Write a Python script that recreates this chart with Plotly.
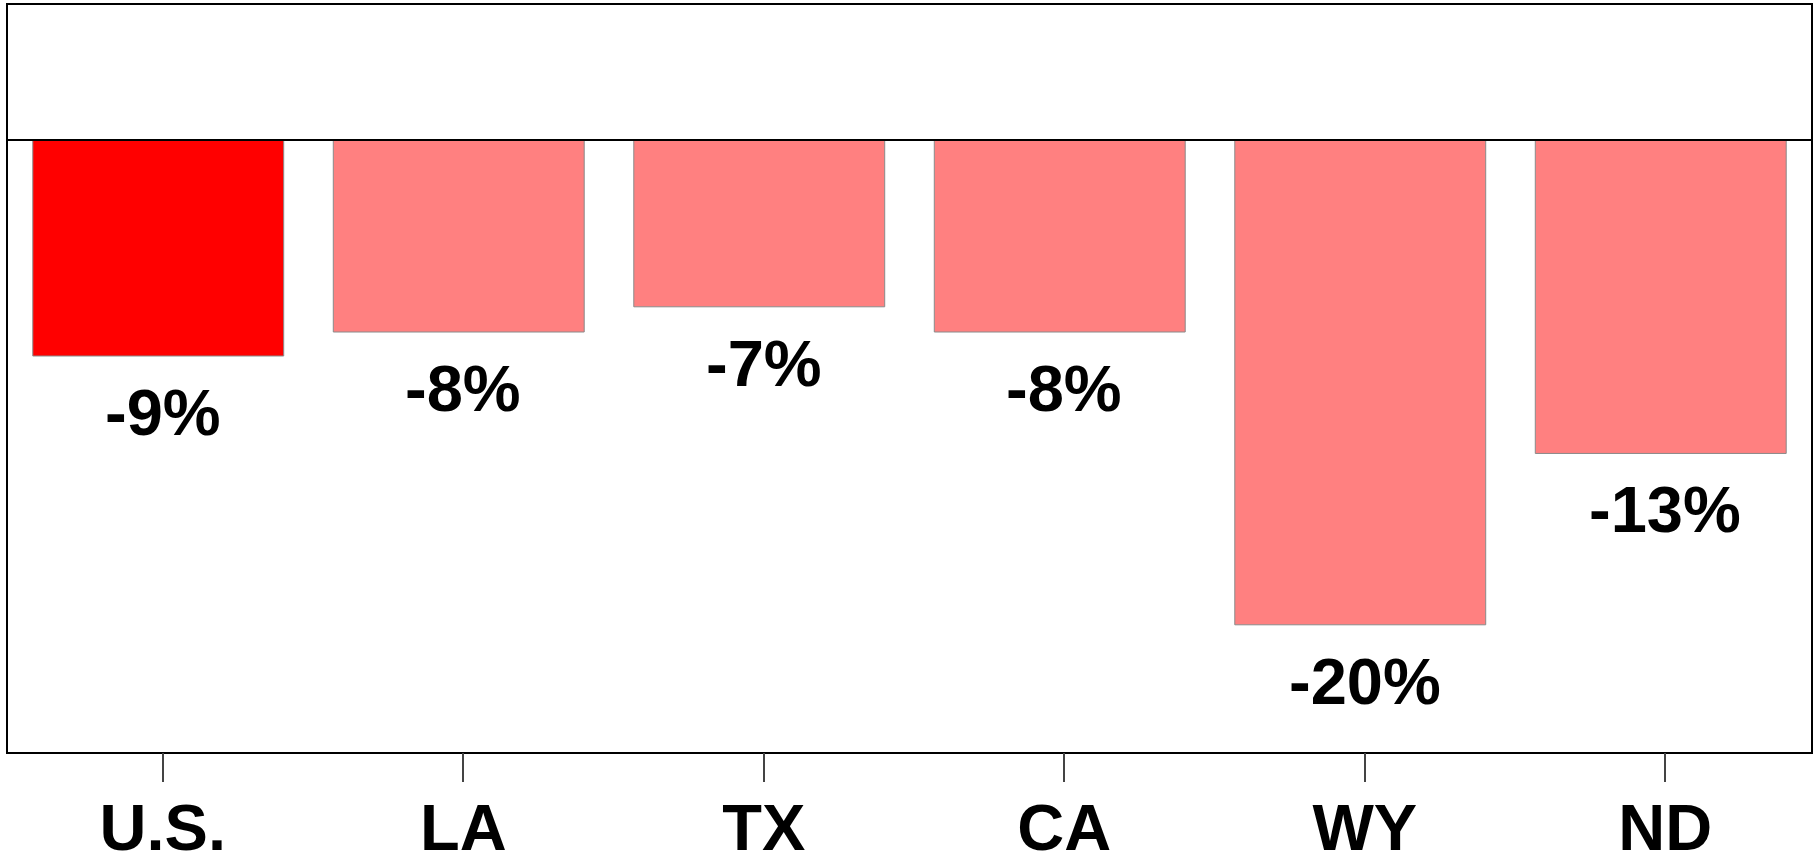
import plotly.graph_objects as go

categories = ["U.S.", "LA", "TX", "CA", "WY", "ND"]
values = [-9.0, -8.0, -6.95, -8.0, -20.2, -13.06]
labels = ["-9%", "-8%", "-7%", "-8%", "-20%", "-13%"]
colors = ["#FF0000", "#FF8080", "#FF8080", "#FF8080", "#FF8080", "#FF8080"]

FONT = "Arial, 'Liberation Sans', sans-serif"

fig = go.Figure()
fig.add_trace(go.Bar(
    x=categories, y=values,
    marker=dict(color=colors, line=dict(color="#8a8a8a", width=1)),
    width=0.835, hoverinfo="skip", showlegend=False,
))
# invisible trace to carry the tick axis (slightly offset as in the reference)
fig.add_trace(go.Scatter(
    x=categories, y=values, xaxis="x2", mode="markers",
    marker=dict(opacity=0), hoverinfo="skip", showlegend=False,
))

for c, v, t in zip(categories, values, labels):
    fig.add_annotation(
        x=c, y=v, xref="x2", yref="y", text=f"<b>{t}</b>",
        showarrow=False, yanchor="top", yshift=-18,
        font=dict(family=FONT, size=65, color="black"),
    )

# zero line drawn above the bars
fig.add_shape(type="line", xref="paper", yref="y", x0=0, x1=1, y0=0, y1=0,
              line=dict(color="black", width=2), layer="above")

fig.update_layout(
    template="none",
    width=1814, height=857,
    margin=dict(l=8, r=3, t=5, b=105, autoexpand=False),
    paper_bgcolor="white", plot_bgcolor="white",
    bargap=0.165,
    xaxis=dict(
        type="category", categoryarray=categories, range=[-0.5, 5.5],
        showline=True, mirror=True, linecolor="black", linewidth=2,
        showticklabels=False, ticks="", showgrid=False, zeroline=False,
        automargin=False,
    ),
    xaxis2=dict(
        type="category", categoryarray=categories, overlaying="x",
        range=[-0.515, 5.485], side="bottom", anchor="y",
        showline=False, ticks="outside", ticklen=29, tickwidth=1.5,
        tickcolor="#444", showgrid=False, zeroline=False,
        tickfont=dict(family=FONT, size=65, color="black"),
        tickprefix="<b>", ticksuffix="</b>", automargin=False,
        ticklabelstandoff=-10,
    ),
    yaxis=dict(
        range=[-25.5, 5.625],
        showline=True, mirror=True, linecolor="black", linewidth=2,
        showticklabels=False, ticks="", showgrid=False,
        zeroline=False, automargin=False,
    ),
)

fig.write_html(
    "out.html",
    config={"displayModeBar": False},
    post_script="document.body.style.margin='0';document.body.style.overflow='hidden';",
)
